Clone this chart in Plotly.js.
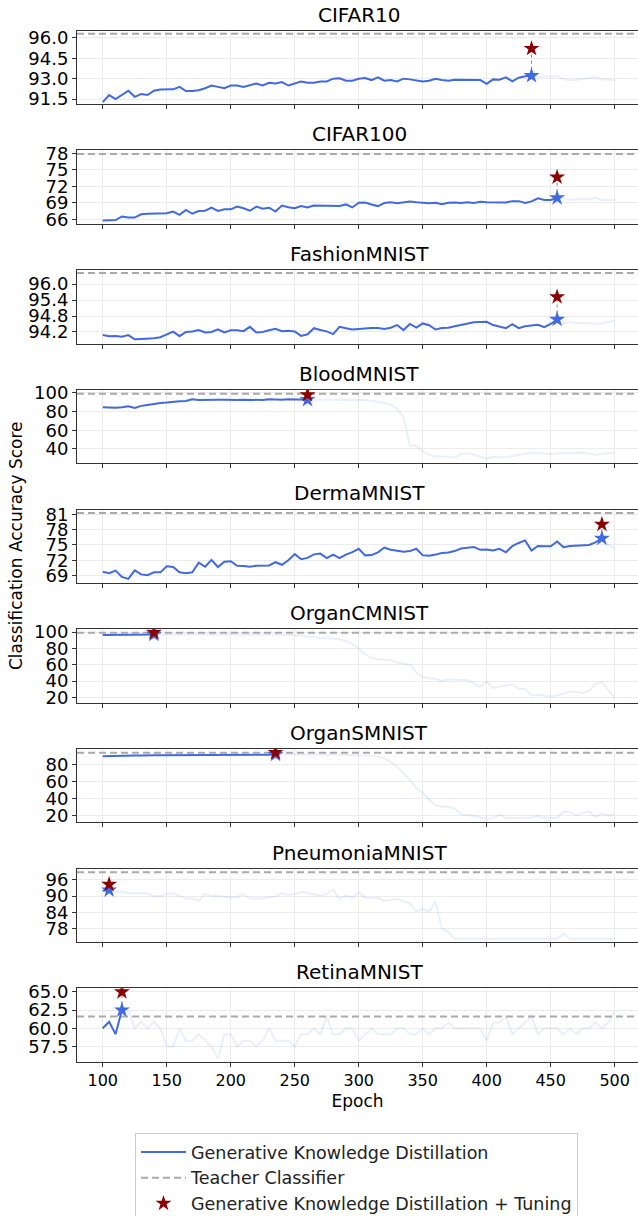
<!DOCTYPE html>
<html><head><meta charset="utf-8">
<script src="https://cdn.plot.ly/plotly-3.0.1.min.js"></script>
<style>html,body{margin:0;padding:0;background:#fff}#chart{width:638px;height:1216px}</style>
</head><body><div id="chart"></div>
<script>
const epochs = [100,105,110,115,120,125,130,135,140,145,150,155,160,165,170,175,180,185,190,195,
200,205,210,215,220,225,230,235,240,245,250,255,260,265,270,275,280,285,290,295,
300,305,310,315,320,325,330,335,340,345,350,355,360,365,370,375,380,385,390,395,
400,405,410,415,420,425,430,435,440,445,450,455,460,465,470,475,480,485,490,495,500];

const datasets = ["CIFAR10","CIFAR100","FashionMNIST","BloodMNIST","DermaMNIST","OrganCMNIST","OrganSMNIST","PneumoniaMNIST","RetinaMNIST"];

const cifar10 = [91.28,91.8,91.5,91.8,92.12,91.67,91.87,91.8,92.12,92.2,
92.2,92.22,92.4,92.1,92.1,92.15,92.3,92.5,92.4,92.3,
92.5,92.5,92.4,92.5,92.65,92.5,92.7,92.65,92.75,92.5,
92.65,92.8,92.7,92.7,92.8,92.8,93.0,93.03,92.85,92.85,
93.0,93.05,92.9,93.1,92.85,92.9,92.8,93.0,92.95,92.85,
92.8,92.85,93.0,92.9,92.85,92.93,92.93,92.9,92.88,92.9,
92.63,92.95,92.93,93.1,92.8,93.07,93.18,93.22,93.15,93.15,
93.17,93.2,92.95,92.9,92.93,93.0,93.05,93.1,92.95,92.9,92.9];

const cifar100 = [65.75,65.75,65.85,66.5,66.3,66.3,66.9,67.0,67.0,67.0,
67.1,67.4,66.8,67.7,67.0,67.5,67.55,68.1,67.5,67.8,
67.8,68.3,68.0,67.55,68.3,67.9,68.1,67.4,68.5,68.2,
68.0,68.4,68.15,68.5,68.45,68.4,68.35,68.4,68.7,68.15,
69.0,69.05,68.7,68.4,68.95,69.1,68.9,69.05,69.25,69.1,
69.0,68.9,69.0,68.75,69.0,69.05,68.95,69.1,68.95,69.2,
69.1,69.1,69.1,69.05,69.3,69.3,68.95,69.25,69.8,69.5,
69.5,69.9,69.8,69.55,69.6,69.7,69.6,69.9,69.5,69.55,69.5];

const fashionMnist = [94.08,94.04,94.05,94.02,94.08,93.92,93.93,93.94,93.96,94.0,
94.1,94.21,94.04,94.2,94.22,94.27,94.18,94.2,94.3,94.18,
94.26,94.26,94.23,94.39,94.18,94.2,94.26,94.32,94.23,94.24,
94.22,94.05,94.11,94.34,94.27,94.22,94.12,94.39,94.34,94.29,
94.31,94.34,94.35,94.35,94.31,94.36,94.46,94.27,94.5,94.36,
94.52,94.45,94.29,94.35,94.36,94.41,94.46,94.52,94.56,94.57,
94.58,94.46,94.4,94.34,94.49,94.34,94.41,94.45,94.47,94.38,
94.5,94.67,94.5,94.6,94.52,94.55,94.52,94.51,94.52,94.57,94.63];

const bloodMnist = [84.6,84.2,83.9,84.6,85.6,83.9,86.0,87.0,88.4,89.1,
89.5,90.5,90.9,91.2,93.0,92.3,92.6,93.0,92.6,92.6,
92.3,92.3,92.6,92.3,92.6,92.3,93.0,92.6,92.6,93.0,
93.0,92.6,92.6,93.0,92.6,92.6,92.6,92.3,92.3,92.3,
92.0,92.3,91.6,90.5,89.0,87.0,83.0,74.0,43.5,43.5,
37.0,33.5,32.0,32.0,31.0,31.0,34.5,35.2,34.0,31.5,
29.5,31.5,31.0,31.0,32.5,33.8,35.0,36.0,36.0,35.5,
34.4,35.3,35.3,35.5,35.3,36.0,35.0,33.5,35.0,35.5,35.5];

const dermaMnist = [69.7,69.45,69.95,68.7,68.3,70.0,69.2,69.05,69.6,69.6,
70.8,70.65,69.6,69.45,69.6,71.5,70.7,72.05,70.65,71.7,
71.8,70.9,70.85,70.7,70.9,70.95,70.95,71.6,71.1,72.0,
73.2,72.2,72.45,73.15,73.3,72.4,73.1,72.4,73.1,73.6,
74.25,72.95,73.0,73.55,74.5,74.05,73.85,73.65,73.8,74.25,
72.95,72.9,73.1,73.4,73.5,73.8,74.3,74.45,74.6,74.05,
74.1,73.9,74.25,73.55,74.8,75.4,75.9,73.9,74.8,74.75,
74.75,75.7,74.55,74.8,74.85,75.0,75.0,75.5,76.3,75.0,74.3];

const organCMnist = [96.4,96.6,96.4,96.4,97.0,97.2,97.4,97.4,97.2,97.0,
97.0,96.8,97.0,97.2,97.0,97.0,96.8,97.0,97.2,97.0,
96.8,97.0,97.0,96.8,97.0,97.0,96.8,96.8,96.6,96.6,
96.4,95.8,95.2,94.0,92.8,92.4,92.0,91.6,89.2,85.2,
80.0,72.7,68.7,66.7,66.3,65.9,62.7,61.5,60.3,50.6,
45.0,43.4,43.0,40.2,42.2,41.8,41.8,41.4,37.3,33.0,
39.4,31.7,33.3,35.0,36.1,30.5,30.5,22.5,23.3,22.0,
21.3,22.5,24.5,26.9,26.9,25.3,28.0,36.0,39.0,28.5,19.2];

const organSMnist = [89.5,89.8,90.0,90.1,90.3,90.4,90.2,90.0,90.5,90.7,
90.7,90.5,90.8,90.9,90.7,90.9,91.0,90.8,91.0,91.1,
90.9,90.8,91.1,91.2,91.0,91.2,91.3,91.4,91.5,91.4,
91.5,91.4,91.5,91.5,91.4,91.5,91.5,91.3,91.2,91.0,
90.8,90.5,90.0,89.2,87.0,83.0,77.3,69.7,62.0,52.4,
46.7,39.0,32.5,30.6,30.6,28.3,21.8,21.0,19.5,17.6,
16.8,17.6,21.8,17.6,17.2,17.2,17.2,18.0,19.9,17.6,
17.6,17.6,25.3,24.1,20.3,23.7,24.9,18.4,23.0,19.9,21.8];

const pneumoniaMnist = [92.0,92.2,91.7,91.5,91.1,91.0,91.0,91.0,90.0,90.0,
90.8,91.0,90.0,89.1,89.1,88.2,90.8,90.0,90.0,89.7,
89.5,89.7,90.7,89.1,89.1,89.2,89.6,89.8,91.1,90.5,
90.7,91.5,91.1,90.7,90.1,90.7,92.4,89.0,90.2,89.4,
91.5,89.4,89.3,89.3,88.2,88.6,89.0,88.0,87.5,84.3,
85.4,84.2,88.1,78.1,76.9,74.3,74.3,74.3,74.3,74.3,
74.3,74.3,74.3,74.3,74.3,74.3,74.3,74.3,74.3,74.3,
74.3,74.3,76.2,74.3,74.3,74.3,74.3,74.3,74.3,74.3,74.3];

const retinaMnist = [60.0,60.9,59.2,62.5,62.4,60.0,60.9,60.0,60.9,60.0,
57.5,57.5,60.0,58.3,58.3,59.2,58.3,57.5,55.8,59.2,
59.2,57.5,58.3,58.3,57.5,58.3,60.0,58.3,58.3,58.3,
57.5,59.2,59.2,60.0,59.2,61.6,59.2,59.2,60.0,60.0,
58.3,59.2,60.0,59.2,59.2,59.2,60.0,60.0,59.2,59.2,
60.0,59.2,60.0,60.0,60.8,60.0,60.0,60.0,60.0,60.0,
58.3,60.8,60.8,61.6,59.2,60.0,60.8,61.6,59.2,60.0,
60.0,60.0,59.2,60.0,59.2,60.0,60.0,60.8,60.0,60.8,62.4];

const seriesValues = [cifar10,cifar100,fashionMnist,bloodMnist,dermaMnist,organCMnist,organSMnist,pneumoniaMnist,retinaMnist];
const bestEpochs = [435,455,455,260,490,140,235,105,115];
const tunedScores = [95.21,73.67,95.52,97.9,79.06,99.6,93.7,94.3,65.0];
const teacherScores = [96.3,77.9,96.42,99.0,81.3,99.2,93.4,98.8,61.63];
const yTickVals = [[91.5,93,94.5,96],[66,69,72,75,78],[94.2,94.8,95.4,96.0],[40,60,80,100],[69,72,75,78,81],[20,40,60,80,100],[20,40,60,80],[78,84,90,96],[57.5,60,62.5,65]];
const yTickText = [["91.5","93.0","94.5","96.0"],["66","69","72","75","78"],["94.2","94.8","95.4","96.0"],["40","60","80","100"],["69","72","75","78","81"],["20","40","60","80","100"],["20","40","60","80"],["78","84","90","96"],["57.5","60.0","62.5","65.0"]];
const xTickVals = [100,150,200,250,300,350,400,450,500];

// layout settings
const yRanges = [[91.13,96.52],[65.15,78.55],[93.76,96.53],[24.6,103.2],[67.5,82.0],[13.6,103.6],[12.4,98.0],[73.1,100.1],[55.4,65.5]];
const W = 638, H = 1216, ML = 77;
const XR = [79.9, 518.2];
const FONT = "DejaVu Sans";
const BLUE = "#4169E1", FADED = "rgba(65,105,225,0.11)", RED = "#8B0000";

const traces = [];
const layout = {
  width: W, height: H, margin: {l: ML, r: 0, t: 0, b: 0, autoexpand: false},
  paper_bgcolor: "#fff", plot_bgcolor: "#fff",
  font: {family: FONT, size: 16, color: "#000"},
  showlegend: true,
  legend: {x: (135 - ML) / (W - ML), y: 1 - 1133 / H, xanchor: "left", yanchor: "top",
    bgcolor: "#fff", bordercolor: "#cccccc", borderwidth: 1,
    font: {family: FONT, size: 17.5, color: "#222"}, itemwidth: 45, tracegroupgap: 0},
  annotations: []
};

datasets.forEach((name, i) => {
  const k = i === 0 ? "" : String(i + 1);
  const xa = "x" + k, ya = "y" + k;
  const vals = seriesValues[i];
  const bi = epochs.indexOf(bestEpochs[i]);
  const top = 30.7 + 119.7 * i, h = 73.5;
  const first = i === 0;
  traces.push({x: epochs.slice(bi), y: vals.slice(bi), xaxis: xa, yaxis: ya, type: "scatter", mode: "lines",
    line: {color: FADED, width: 2}, showlegend: false, hoverinfo: "skip"});
  traces.push({x: epochs.slice(0, bi + 1), y: vals.slice(0, bi + 1), xaxis: xa, yaxis: ya, type: "scatter", mode: "lines",
    line: {color: BLUE, width: 2}, name: "Generative Knowledge Distillation", legendgroup: "gkd", showlegend: first});
  traces.push({x: XR, y: [teacherScores[i], teacherScores[i]], xaxis: xa, yaxis: ya, type: "scatter", mode: "lines",
    line: {color: "#aaaaaa", width: 2, dash: "7px,4px"}, name: "Teacher Classifier", legendgroup: "teacher", showlegend: first});
  traces.push({x: [bestEpochs[i], bestEpochs[i]], y: [vals[bi], tunedScores[i]], xaxis: xa, yaxis: ya, type: "scatter", mode: "lines",
    line: {color: "#888", width: 1, dash: "dot"}, showlegend: false});
  traces.push({x: [bestEpochs[i]], y: [vals[bi]], xaxis: xa, yaxis: ya, type: "scatter", mode: "markers",
    marker: {symbol: "star", size: 12, color: BLUE}, showlegend: false});
  traces.push({x: [bestEpochs[i]], y: [tunedScores[i]], xaxis: xa, yaxis: ya, type: "scatter", mode: "markers",
    marker: {symbol: "star", size: 12, color: RED}, name: "Generative Knowledge Distillation + Tuning", legendgroup: "tuned", showlegend: first});

  const last = i === datasets.length - 1;
  layout["xaxis" + k] = {
    domain: [0, 1], anchor: ya, range: XR, tickvals: xTickVals, ticktext: xTickVals.map(String),
    showticklabels: last, ticks: "outside", ticklen: 4, tickwidth: 1, tickcolor: "#333",
    showgrid: true, gridcolor: "#ececec", gridwidth: 1, zeroline: false,
    showline: true, linecolor: "#333", linewidth: 1, mirror: true,
    tickfont: {family: FONT, size: 16, color: "#000"},
    title: last ? {text: "Epoch", font: {family: FONT, size: 17, color: "#000"}, standoff: 6} : {text: ""}
  };
  layout["yaxis" + k] = {
    domain: [1 - (top + h) / H, 1 - top / H], anchor: xa, range: yRanges[i],
    tickvals: yTickVals[i], ticktext: yTickText[i], ticks: "outside", ticklen: 4, tickwidth: 1, tickcolor: "#333",
    showgrid: true, gridcolor: "#ececec", gridwidth: 1, zeroline: false,
    showline: true, linecolor: "#333", linewidth: 1, mirror: true,
    tickfont: {family: FONT, size: 18, color: "#000"}
  };
  layout.annotations.push({text: name, xref: "paper", yref: "paper", x: (359 - ML) / (W - ML), y: 1 - top / H,
    xanchor: "center", yanchor: "bottom", yshift: 2, showarrow: false,
    font: {family: FONT, size: 20, color: "#000"}});
});

layout.annotations.push({text: "Classification Accuracy Score", xref: "paper", yref: "paper",
  x: (16 - ML) / (W - ML), y: 1 - 546 / H, xanchor: "center", yanchor: "middle", textangle: -90, showarrow: false,
  font: {family: FONT, size: 17, color: "#000"}});

Plotly.newPlot("chart", traces, layout, {staticPlot: true, displayModeBar: false});
</script></body></html>
